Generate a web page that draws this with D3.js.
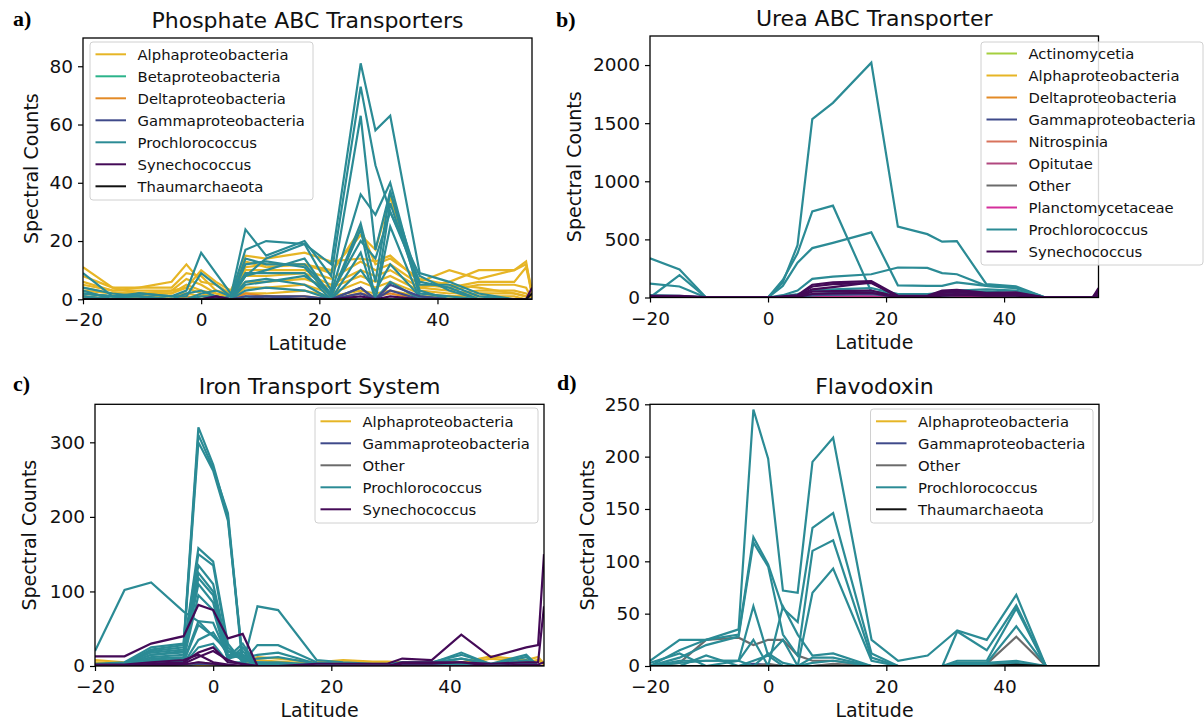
<!DOCTYPE html>
<html><head><meta charset="utf-8">
<script src="https://cdn.jsdelivr.net/npm/d3@7"></script>
<style>
body{margin:0;background:#fff}
svg{display:block}
</style>
</head><body>
<svg id="chart" width="1204" height="724"></svg>
<script>
// ---------------- DATA ----------------
const latitudes = [-20, -15, -10.5, -5, -2.5, 0, 2.5, 5, 7.5, 11, 17.5, 22, 27, 29.5, 32, 37, 42, 47, 53, 55, 56];
const xTicks = [-20, 0, 20, 40];

const titles = ["Phosphate ABC Transporters", "Urea ABC Transporter", "Iron Transport System", "Flavodoxin"];
const panelLetters = ["a)", "b)", "c)", "d)"];

const yTicksA = [0, 20, 40, 60, 80];
const yTicksB = [0, 500, 1000, 1500, 2000];
const yTicksC = [0, 100, 200, 300];
const yTicksD = [0, 50, 100, 150, 200, 250];

const legendA = ["Alphaproteobacteria", "Betaproteobacteria", "Deltaproteobacteria", "Gammaproteobacteria", "Prochlorococcus", "Synechococcus", "Thaumarchaeota"];
const legendB = ["Actinomycetia", "Alphaproteobacteria", "Deltaproteobacteria", "Gammaproteobacteria", "Nitrospinia", "Opitutae", "Other", "Planctomycetaceae", "Prochlorococcus", "Synechococcus"];
const legendC = ["Alphaproteobacteria", "Gammaproteobacteria", "Other", "Prochlorococcus", "Synechococcus"];
const legendD = ["Alphaproteobacteria", "Gammaproteobacteria", "Other", "Prochlorococcus", "Thaumarchaeota"];

// Phosphate ABC transporters: spectral counts per latitude
const phosphateLines = [
  ["Alphaproteobacteria", [11,4,4,6,12,6,5,2,15,14,16,13,14,13,15,6,10,7,10,13,1]],
  ["Alphaproteobacteria", [6,3,4,4,9,8,3,2,11,12,12,10,22,17,35,4,6,10,10,12,3]],
  ["Alphaproteobacteria", [5,3,3,3,7,5,2,1,10,10,10,7,13,10,12,5,4,6,6,11,2]],
  ["Alphaproteobacteria", [4,2,2,2,5,3,2,1,8,8,9,5,10,8,10,4,3,5,5,4,0]],
  ["Alphaproteobacteria", [3,2,2,2,4,2,1,1,6,6,7,4,8,6,8,3,2,3,3,2,0]],
  ["Alphaproteobacteria", [2,1,1,1,2,1,1,0,4,4,5,2,6,4,6,2,1,2,2,1,0]],
  ["Alphaproteobacteria", [1,0,1,1,1,0,0,0,2,2,3,1,3,2,3,1,1,1,1,0,0]],
  ["Alphaproteobacteria", [8,4,2,3,4,10,6,3,13,11,12,9,24,12,14,7,5,4,2,1,0]],
  ["Betaproteobacteria", [2,1,0,0,0,0,0,0,1,0,0,0,0,0,0,0,0,0,0,0,0]],
  ["Deltaproteobacteria", [1,0,0,0,1,0,1,0,2,1,1,0,2,1,2,0,0,0,0,0,0]],
  ["Prochlorococcus", [9,1,2,1,3,16,9,2,8,14,19,12,81,58,63,9,6,2,0,0,0]],
  ["Prochlorococcus", [3,0,2,1,1,9,5,1,24,15,20,8,73,46,30,6,4,0,0,0,0]],
  ["Prochlorococcus", [2,1,1,0,0,2,3,1,17,20,19,3,63,17,37,5,5,1,0,0,0]],
  ["Prochlorococcus", [1,0,0,0,0,1,1,0,14,12,12,2,36,29,40,2,1,0,0,0,0]],
  ["Prochlorococcus", [0,0,0,0,0,0,0,0,12,13,11,1,26,6,37,1,0,0,0,0,0]],
  ["Prochlorococcus", [0,0,0,0,0,0,0,1,9,9,9,0,16,0,25,0,0,0,0,0,0]],
  ["Prochlorococcus", [1,0,0,0,0,0,0,0,6,7,5,0,10,3,12,1,0,0,0,0,0]],
  ["Prochlorococcus", [0,0,0,0,0,0,0,0,3,4,3,0,4,0,6,0,0,0,0,0,0]],
  ["Prochlorococcus", [2,1,1,0,0,0,0,0,8,10,14,1,24,0,33,3,0,0,0,0,0]],
  ["Prochlorococcus", [4,2,1,0,2,3,1,0,5,6,8,2,20,14,30,8,3,0,0,0,0]],
  ["Gammaproteobacteria", [0,0,0,0,0,0,0,0,1,1,1,0,4,0,5,1,0,0,0,0,0]],
  ["Gammaproteobacteria", [0,0,0,0,0,0,1,0,0,1,0,0,2,0,3,0,0,0,0,0,0]],
  ["Synechococcus", [0,0,0,0,0,0,1,0,0,0,0,0,1,0,1,0,0,0,0,0,4]],
  ["Thaumarchaeota", [0,0,0,0,0,0,0,0,0,0,0,0,0,0,0,0,0,0,0,0,2]]
];

// Urea ABC transporter
const ureaLines = [
  ["Actinomycetia", [0,0,0,0,0,0,0,0,2,2,2,0,0,0,0,0,0,0,0,0,0]],
  ["Alphaproteobacteria", [5,5,0,0,0,0,0,0,5,5,5,3,3,5,5,5,5,0,0,0,0]],
  ["Deltaproteobacteria", [0,0,0,0,0,0,0,0,3,3,3,0,0,2,2,2,2,0,0,0,0]],
  ["Nitrospinia", [0,0,0,0,0,0,0,0,2,2,2,0,0,3,3,3,3,0,0,0,0]],
  ["Opitutae", [0,0,0,0,0,0,0,0,5,5,5,0,0,2,2,2,2,0,0,0,0]],
  ["Other", [2,2,0,0,0,0,0,2,8,8,8,2,2,5,5,5,5,0,0,0,0]],
  ["Planctomycetaceae", [0,0,0,0,0,0,0,0,10,12,12,0,0,5,5,3,3,0,0,0,0]],
  ["Prochlorococcus", [0,0,0,0,0,0,130,450,1535,1675,2020,610,545,480,485,115,95,0,0,0,0]],
  ["Prochlorococcus", [0,0,0,0,0,0,150,380,740,790,50,30,30,30,30,25,15,0,0,0,0]],
  ["Prochlorococcus", [0,0,0,0,0,0,100,300,425,470,560,105,100,100,130,100,85,0,0,0,0]],
  ["Prochlorococcus", [337,242,0,0,0,0,20,60,160,180,200,258,255,210,200,100,80,0,0,0,0]],
  ["Prochlorococcus", [120,95,0,0,0,0,10,30,60,70,80,30,30,40,60,70,60,0,0,0,0]],
  ["Prochlorococcus", [0,193,0,0,0,0,0,10,30,40,50,20,20,30,40,50,40,0,0,0,0]],
  ["Prochlorococcus", [20,15,0,0,0,0,0,5,20,25,30,10,10,15,20,30,30,0,0,0,0]],
  ["Gammaproteobacteria", [0,0,0,0,0,0,2,5,20,25,30,5,5,20,25,20,20,0,0,0,0]],
  ["Synechococcus", [15,15,3,0,0,0,10,20,110,130,140,15,15,60,65,40,45,0,0,0,80]],
  ["Synechococcus", [10,10,2,0,0,0,5,15,95,115,125,10,10,50,55,35,35,0,0,0,60]],
  ["Synechococcus", [5,5,0,0,0,0,3,10,70,90,130,8,8,40,45,30,30,0,0,0,40]],
  ["Synechococcus", [3,3,0,0,0,0,2,8,50,55,60,5,5,25,30,20,25,0,0,0,20]],
  ["Synechococcus", [2,2,0,0,0,0,1,5,30,35,40,3,3,15,20,15,15,0,0,0,10]]
];

// Iron transport system
const ironLines = [
  ["Alphaproteobacteria", [8,5,3,2,2,1,0,0,12,10,5,8,6,6,5,5,5,13,8,12,3]],
  ["Alphaproteobacteria", [5,3,2,1,1,1,0,0,8,6,3,5,5,4,3,3,3,10,5,8,2]],
  ["Gammaproteobacteria", [0,0,0,0,3,2,0,0,0,0,0,0,0,0,2,2,3,0,0,0,0]],
  ["Other", [0,0,1,1,5,3,1,0,0,0,0,0,0,0,0,0,0,0,0,0,0]],
  ["Prochlorococcus", [20,102,112,73,60,40,20,8,5,3,2,2,2,2,5,5,10,3,5,0,0]],
  ["Prochlorococcus", [3,5,25,30,320,270,200,0,80,75,8,5,3,3,5,5,15,3,15,0,0]],
  ["Prochlorococcus", [2,4,22,28,310,265,205,5,28,28,5,3,2,2,4,4,18,2,12,0,0]],
  ["Prochlorococcus", [2,3,20,25,300,262,195,10,15,18,3,2,2,2,3,3,10,2,8,0,0]],
  ["Prochlorococcus", [2,3,18,22,158,140,30,5,10,12,3,0,0,0,2,2,5,0,3,0,0]],
  ["Prochlorococcus", [1,2,15,20,150,135,25,8,5,5,2,0,0,0,2,2,4,0,2,0,0]],
  ["Prochlorococcus", [1,2,15,18,135,110,20,10,3,3,0,0,0,0,1,1,3,0,0,0,0]],
  ["Prochlorococcus", [1,2,12,15,125,100,15,12,2,2,0,0,0,0,1,1,2,0,0,0,0]],
  ["Prochlorococcus", [1,1,10,12,118,95,10,15,0,0,0,0,0,0,0,0,2,0,0,0,0]],
  ["Prochlorococcus", [1,1,8,10,110,85,10,20,0,0,0,0,0,0,0,0,1,0,0,0,0]],
  ["Prochlorococcus", [0,1,6,8,95,75,8,25,0,0,0,0,0,0,0,0,0,0,0,0,0]],
  ["Prochlorococcus", [0,1,5,6,60,58,12,30,0,0,0,0,0,0,0,0,0,0,0,0,0]],
  ["Prochlorococcus", [0,0,3,5,55,40,20,15,0,0,0,0,0,0,0,0,0,0,0,0,0]],
  ["Prochlorococcus", [0,0,2,3,35,45,15,10,0,0,0,0,0,0,0,0,0,0,0,0,0]],
  ["Prochlorococcus", [0,0,1,2,25,30,5,5,0,0,0,0,0,0,0,0,0,0,0,0,0]],
  ["Synechococcus", [13,13,30,40,82,75,37,43,0,0,0,0,0,0,5,5,5,0,2,2,5]],
  ["Synechococcus", [0,0,3,5,18,25,5,3,0,0,0,0,0,0,0,0,0,0,0,0,0]],
  ["Synechococcus", [0,0,2,3,12,20,8,2,0,0,0,0,0,0,0,0,0,0,0,0,0]],
  ["Synechococcus", [2,2,5,8,15,5,2,0,0,0,3,3,3,3,10,8,42,12,25,28,150]],
  ["Synechococcus", [0,0,0,2,5,3,1,0,0,0,0,0,0,0,3,3,5,3,5,5,80]]
];

// Flavodoxin
const flavodoxinLines = [
  ["Alphaproteobacteria", [0,0,0,0,0,0,0,0,0,0,0,0,0,0,3,3,0,0,0,0,0]],
  ["Gammaproteobacteria", [0,0,0,0,2,1,0,0,0,1,0,0,0,0,0,0,0,0,0,0,0]],
  ["Other", [0,3,25,27,20,25,25,10,5,5,0,0,0,0,2,2,28,0,0,0,0]],
  ["Other", [0,0,0,0,0,2,0,0,0,2,0,0,0,0,0,0,2,0,0,0,0]],
  ["Prochlorococcus", [5,25,25,35,245,198,72,70,195,218,25,5,10,22,34,25,68,0,0,0,0]],
  ["Prochlorococcus", [0,15,25,30,123,97,55,42,132,146,12,0,0,0,33,15,58,0,0,0,0]],
  ["Prochlorococcus", [0,8,20,28,118,95,30,10,110,120,8,0,0,0,5,5,55,0,0,0,0]],
  ["Prochlorococcus", [0,3,5,5,57,10,0,0,70,93,5,0,0,0,3,3,38,0,0,0,0]],
  ["Prochlorococcus", [3,12,0,5,25,0,57,30,10,12,0,0,0,0,3,3,5,0,0,0,0]],
  ["Prochlorococcus", [0,0,10,0,5,10,25,0,8,8,0,0,0,0,2,2,3,0,0,0,0]],
  ["Prochlorococcus", [0,5,5,5,0,12,3,0,3,5,0,0,0,0,0,0,0,0,0,0,0]],
  ["Thaumarchaeota", [0,0,0,0,0,0,0,0,0,0,0,0,0,0,0,0,1,0,0,0,0]]
];

// ---------------- STYLE ----------------
const taxonColors = {
  "Actinomycetia": "#a5cf3f",
  "Alphaproteobacteria": "#e6b525",
  "Betaproteobacteria": "#2bb38a",
  "Deltaproteobacteria": "#e38a26",
  "Gammaproteobacteria": "#3f4a8a",
  "Nitrospinia": "#d8735c",
  "Opitutae": "#b1487f",
  "Other": "#6b6b6b",
  "Planctomycetaceae": "#d42f9b",
  "Prochlorococcus": "#2b8b95",
  "Synechococcus": "#440a57",
  "Thaumarchaeota": "#111111"
};

const FONT = "'DejaVu Sans', sans-serif";
const xDomain = [-20, 56];

const panels = [
  {lines: phosphateLines, legend: legendA, yTicks: yTicksA, ymax: 89.7, left: 83, right: 532, top: 38, bottom: 299.3,
   leg: {x: 90, y: 42, w: 223, h: 158, first: 54.3}, ylabX: 31, letterX: 13, letterY: 26},
  {lines: ureaLines, legend: legendB, yTicks: yTicksB, ymax: 2250, left: 650, right: 1098.5, top: 36, bottom: 297.5,
   leg: {x: 981, y: 42, w: 222, h: 223, first: 53.5}, ylabX: 574, letterX: 556, letterY: 27},
  {lines: ironLines, legend: legendC, yTicks: yTicksC, ymax: 351, left: 95, right: 544, top: 404.3, bottom: 666,
   leg: {x: 315, y: 408, w: 223, h: 115, first: 421.3}, ylabX: 29, letterX: 13, letterY: 391},
  {lines: flavodoxinLines, legend: legendD, yTicks: yTicksD, ymax: 250, left: 650, right: 1099, top: 404.3, bottom: 666,
   leg: {x: 870.5, y: 409, w: 222.5, h: 114, first: 421.3}, ylabX: 587, letterX: 557, letterY: 390}
];

const svg = d3.select("#chart");

panels.forEach((p, i) => {
  const x = d3.scaleLinear().domain(xDomain).range([p.left, p.right]);
  const y = d3.scaleLinear().domain([0, p.ymax]).range([p.bottom, p.top]);
  const clipId = "clip" + i;
  svg.append("clipPath").attr("id", clipId).append("rect")
    .attr("x", p.left).attr("y", p.top).attr("width", p.right - p.left).attr("height", p.bottom - p.top);

  const line = d3.line().x((d, j) => x(latitudes[j])).y(d => y(d));
  svg.append("g").attr("clip-path", `url(#${clipId})`)
    .selectAll("path").data(p.lines).join("path")
    .attr("d", d => line(d[1]))
    .attr("fill", "none")
    .attr("stroke", d => taxonColors[d[0]])
    .attr("stroke-width", 2.2)
    .attr("stroke-linejoin", "miter");

  // frame
  svg.append("rect").attr("x", p.left).attr("y", p.top)
    .attr("width", p.right - p.left).attr("height", p.bottom - p.top)
    .attr("fill", "none").attr("stroke", "#000").attr("stroke-width", 1.3);

  // axes
  const gx = svg.append("g").attr("transform", `translate(0,${p.bottom})`)
    .call(d3.axisBottom(x).tickValues(xTicks).tickSize(5).tickPadding(9).tickFormat(d3.format("d")));
  const gy = svg.append("g").attr("transform", `translate(${p.left},0)`)
    .call(d3.axisLeft(y).tickValues(p.yTicks).tickSize(5).tickPadding(5).tickFormat(d3.format("d")));
  [gx, gy].forEach(g => {
    g.select(".domain").remove();
    g.attr("font-family", FONT).attr("font-size", 18.5);
    g.selectAll(".tick line").attr("stroke", "#000").attr("stroke-width", 1.2);
    g.selectAll(".tick text").attr("fill", "#111");
  });

  // title
  svg.append("text").attr("x", (p.left + p.right) / 2).attr("y", p.top - 10)
    .attr("text-anchor", "middle").attr("font-family", FONT).attr("font-size", 22).attr("fill", "#111")
    .text(titles[i]);
  // x label
  svg.append("text").attr("x", (p.left + p.right) / 2).attr("y", p.bottom + 51)
    .attr("text-anchor", "middle").attr("font-family", FONT).attr("font-size", 19).attr("fill", "#111")
    .text("Latitude");
  // y label
  const cy = (p.top + p.bottom) / 2;
  svg.append("text").attr("transform", `translate(${p.ylabX + 7},${cy}) rotate(-90)`)
    .attr("text-anchor", "middle").attr("font-family", FONT).attr("font-size", 19).attr("fill", "#111")
    .text("Spectral Counts");
  // panel letter
  svg.append("text").attr("x", p.letterX).attr("y", p.letterY)
    .attr("font-family", "'Liberation Serif', 'Times New Roman', serif").attr("font-weight", "bold")
    .attr("font-size", 22).attr("fill", "#000").text(panelLetters[i]);

  // legend
  const L = p.leg;
  const lg = svg.append("g");
  lg.append("rect").attr("x", L.x).attr("y", L.y).attr("width", L.w).attr("height", L.h)
    .attr("rx", 3).attr("fill", "#fff").attr("fill-opacity", 0.85)
    .attr("stroke", "#d0d0d0").attr("stroke-width", 1);
  const items = lg.selectAll("g.item").data(p.legend).join("g")
    .attr("transform", (d, k) => `translate(0,${L.first + k * 22})`);
  items.append("line").attr("x1", L.x + 5.5).attr("x2", L.x + 36).attr("y1", 0).attr("y2", 0)
    .attr("stroke", d => taxonColors[d]).attr("stroke-width", 2);
  items.append("text").attr("x", L.x + 47.5).attr("y", 0).attr("dy", "0.36em")
    .attr("font-family", FONT).attr("font-size", 14.8).attr("fill", "#111").text(d => d);
});
</script>
</body></html>
